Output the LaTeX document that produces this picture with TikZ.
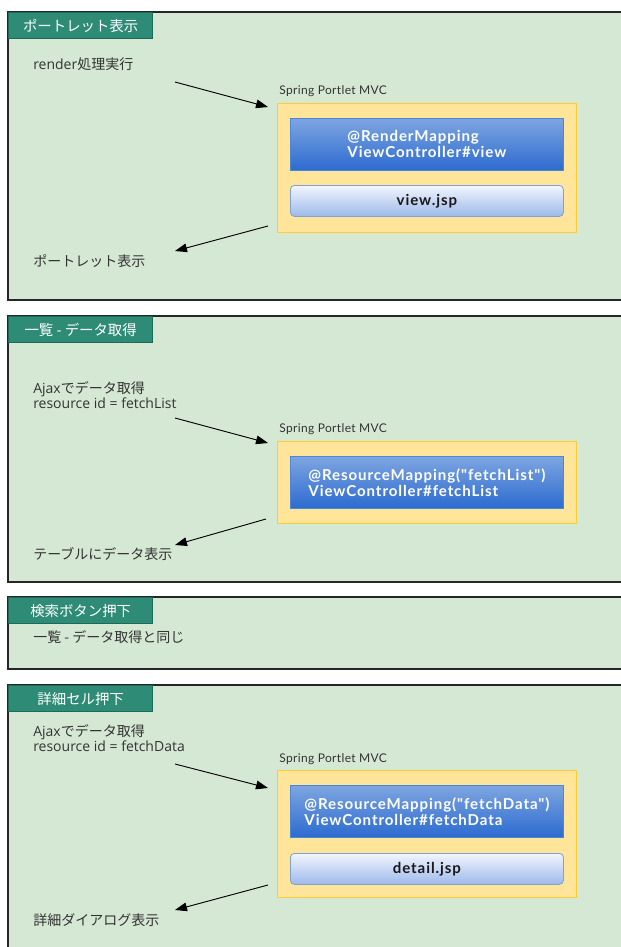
\documentclass[tikz,border=0pt]{standalone}
\usepackage{fontspec}
\setmainfont{Lato}
\newfontfamily\jp{Noto Sans CJK JP}
\newfontfamily\os{Open Sans}
\newfontfamily\boxfont[LetterSpace=6]{Lato}
\newfontfamily\mvcfont[LetterSpace=3]{Lato}
\usetikzlibrary{arrows.meta,fit}
\definecolor{panelgreen}{HTML}{D5E8D4}
\definecolor{tabfill}{HTML}{2E8B75}
\definecolor{tabline}{HTML}{1C6B58}
\definecolor{yfill}{HTML}{FFE59A}
\definecolor{yline}{HTML}{FFCC33}
\definecolor{btop}{HTML}{7EA5E0}
\definecolor{bbot}{HTML}{2C6BD0}
\definecolor{bline}{HTML}{4A86DC}
\definecolor{jtop}{HTML}{F2F6FD}
\definecolor{jbot}{HTML}{9DB9EA}
\definecolor{jline}{HTML}{7EA2D8}
\definecolor{txt}{HTML}{333333}
\tikzset{
  panel/.style={draw=black!85, line width=0.9pt, fill=panelgreen, inner sep=0pt},
  tab/.style={draw=tabline, line width=1pt, fill=tabfill, anchor=north west,
    minimum width=108pt, minimum height=19.5pt, inner sep=0pt, text=white,
    font=\jp\fontsize{10.8}{12}\selectfont},
  spring/.style={draw=yline, line width=1.1pt, fill=yfill, anchor=north west,
    minimum width=224.25pt, inner sep=0pt},
  ctrl/.style={draw=bline, line width=0.6pt, top color=btop, bottom color=bbot,
    anchor=north west, minimum width=204.75pt, minimum height=39pt, inner sep=0pt,
    text=white, align=left, font=\boxfont\bfseries\fontsize{11.3}{12}\selectfont},
  jsp/.style={draw=jline, line width=0.6pt, top color=jtop, bottom color=jbot,
    rounded corners=3pt, anchor=north west, minimum width=204.75pt,
    minimum height=23.25pt, inner sep=0pt, text=black!90,
    font=\boxfont\bfseries\fontsize{11.3}{12}\selectfont},
  lbl/.style={anchor=west, inner sep=0pt, text=txt, align=left,
    font=\jp\fontsize{10.5}{11.4}\selectfont},
  mvc/.style={anchor=west, inner sep=0pt, text=txt, font=\mvcfont\fontsize{9}{10}\selectfont},
  arr/.style={-{Triangle[length=9pt,width=6.5pt]}, line width=0.7pt, black}
}
\begin{document}
\begin{tikzpicture}[x=0.75pt,y=-0.75pt]
\useasboundingbox (0,0) rectangle (621,947);
\clip (0,0) rectangle (621,947);
\fill[white] (0,0) rectangle (621,947);

% ---------- Panel 1 ----------
\node[panel, fit={(8,12) (640,300)}] (p1) {};
\node[tab] (t1) at (8,12) {ポートレット表示};
\node[lbl] (a1) at (33,64) {{\os render}処理実行};
\node[mvc] (m1) at (279,91) {Spring Portlet MVC};
\node[spring, minimum height=96.75pt] (y1) at (277,103) {};
\node[ctrl] (c1) at (290,118) {@RenderMapping\\ViewController\#view};
\node[jsp] (j1) at (290,185) {view.jsp};
\node[lbl] (b1) at (33,261) {ポートレット表示};
\coordinate (s1) at (175,82);
\coordinate (e1) at (268,107);
\coordinate (s2) at (268,226);
\coordinate (e2) at (175,251);
\draw[arr] (s1) -- (e1);
\draw[arr] (s2) -- (e2);

% ---------- Panel 2 ----------
\node[panel, fit={(8,316) (640,582)}] (p2) {};
\node[tab] (t2) at (8,316) {一覧 - データ取得};
\node[lbl] (a2) at (33,395) {{\os Ajax}でデータ取得\\{\os resource id = fetchList}};
\node[mvc] (m2) at (279,429) {Spring Portlet MVC};
\node[spring, minimum height=61.5pt] (y2) at (277,441) {};
\node[ctrl] (c2) at (290,456) {@ResourceMapping("fetchList")\\ViewController\#fetchList};
\node[lbl] (b2) at (33,554) {テーブルにデータ表示};
\coordinate (s3) at (175,418);
\coordinate (e3) at (268,443);
\coordinate (s4) at (266,519);
\coordinate (e4) at (175,545);
\draw[arr] (s3) -- (e3);
\draw[arr] (s4) -- (e4);

% ---------- Panel 3 ----------
\node[panel, fit={(8,597) (640,669)}] (p3) {};
\node[tab] (t3) at (8,597) {検索ボタン押下};
\node[lbl] (a3) at (33,637) {一覧 - データ取得と同じ};

% ---------- Panel 4 ----------
\node[panel, fit={(8,685) (640,960)}] (p4) {};
\node[tab] (t4) at (8,685) {詳細セル押下};
\node[lbl] (a4) at (33,738) {{\os Ajax}でデータ取得\\{\os resource id = fetchData}};
\node[mvc] (m4) at (279,759) {Spring Portlet MVC};
\node[spring, minimum height=95.25pt] (y4) at (277,770) {};
\node[ctrl] (c4) at (290,785) {@ResourceMapping("fetchData")\\ViewController\#fetchData};
\node[jsp] (j4) at (290,853) {detail.jsp};
\node[lbl] (b4) at (33,920) {詳細ダイアログ表示};
\coordinate (s5) at (175,764);
\coordinate (e5) at (268,788);
\coordinate (s6) at (268,885);
\coordinate (e6) at (175,910);
\draw[arr] (s5) -- (e5);
\draw[arr] (s6) -- (e6);
\end{tikzpicture}
\end{document}
